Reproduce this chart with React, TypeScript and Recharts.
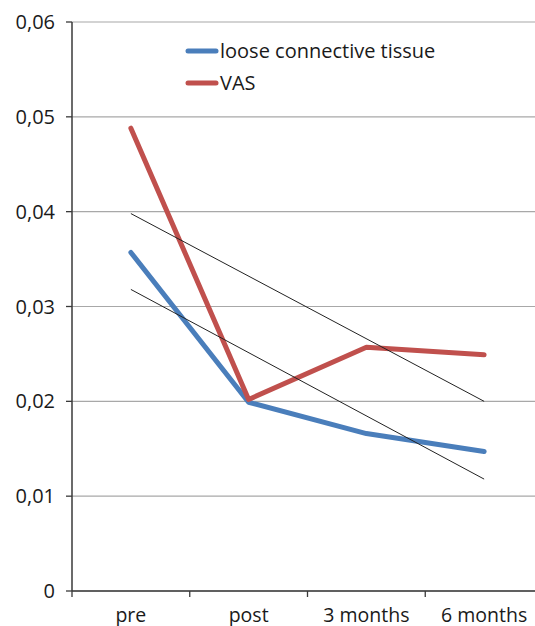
import React from 'react';
import { LineChart, Line, XAxis, YAxis, CartesianGrid, Legend } from 'recharts';

const categories = ['pre', 'post', '3 months', '6 months'];
const looseConnectiveTissue = [0.0357, 0.0199, 0.0166, 0.0147];
const vas = [0.0488, 0.0202, 0.0257, 0.0249];
const trendVas = [0.0398, null, null, 0.0200];
const trendLoose = [0.0318, null, null, 0.0118];
const yTicks = [0, 0.01, 0.02, 0.03, 0.04, 0.05, 0.06];

const data = categories.map((c, i) => ({
  name: c,
  loose: looseConnectiveTissue[i],
  vas: vas[i],
  trendVas: trendVas[i],
  trendLoose: trendLoose[i],
}));

const FONT = '"Open Sans", sans-serif';
const BLUE = '#4A7EBB';
const RED = '#C0504D';
const AXIS = '#3a3a3a';
const TEXT = '#1a1a1a';

const fmt = (v: number) => (v === 0 ? '0' : v.toFixed(2).replace('.', ','));

const XTick = (props: any) => {
  const { x, y, payload } = props;
  const half = payload && payload.offset > 0 ? payload.offset : 58.8;
  return (
    <g>
      <line x1={x - half} x2={x - half} y1={y} y2={y + 6} stroke={AXIS} strokeWidth={1.3} />
      <text x={x} y={y + 31} textAnchor="middle" fontFamily={FONT} fontSize={19.5} fill={TEXT}>
        {payload.value}
      </text>
    </g>
  );
};

const legendItems = [
  { label: 'loose connective tissue', color: BLUE },
  { label: 'VAS', color: RED },
];

const LegendContent = () => (
  <div style={{ fontFamily: FONT, fontSize: 20, color: TEXT }}>
    {legendItems.map((it) => (
      <div key={it.label} style={{ display: 'flex', alignItems: 'center', height: 32, whiteSpace: 'nowrap' }}>
        <svg width={34} height={10} style={{ display: 'block' }}>
          <line x1={3} x2={31} y1={5} y2={5} stroke={it.color} strokeWidth={5} strokeLinecap="round" />
        </svg>
        <span style={{ marginLeft: 1, lineHeight: '32px' }}>{it.label}</span>
      </div>
    ))}
  </div>
);

export default function App() {
  return (
    <div style={{ position: 'absolute', left: 0, top: 0, width: 535, height: 626, overflow: 'hidden' }}>
      <LineChart width={545} height={626} data={data} margin={{ top: 22, right: 2, bottom: 0, left: 0 }}>
        <CartesianGrid horizontal vertical={false} stroke="#a8a8a8" strokeWidth={1.2} />
        <XAxis
          dataKey="name"
          scale="band"
          height={35}
          tickSize={0}
          tickMargin={0}
          tickLine={false}
          tick={<XTick />}
          axisLine={{ stroke: AXIS, strokeWidth: 1.5 }}
          interval={0}
        />
        <YAxis
          width={72}
          domain={[0, 0.06]}
          ticks={yTicks}
          tickFormatter={fmt}
          tickSize={6}
          tickMargin={11}
          tick={{ fontFamily: FONT, fontSize: 20, fill: TEXT }}
          tickLine={{ stroke: AXIS, strokeWidth: 1.3 }}
          axisLine={{ stroke: AXIS, strokeWidth: 1.5 }}
          interval={0}
        />
        <Legend
          verticalAlign="middle"
          layout="horizontal"
          wrapperStyle={{ left: 185, top: 35, width: 300 }}
          content={<LegendContent />}
        />
        <Line dataKey="loose" stroke={BLUE} strokeWidth={5} dot={false} type="linear" isAnimationActive={false} strokeLinejoin="round" strokeLinecap="round" />
        <Line dataKey="vas" stroke={RED} strokeWidth={5} dot={false} type="linear" isAnimationActive={false} strokeLinejoin="round" strokeLinecap="round" />
        <Line dataKey="trendVas" stroke="#222" strokeWidth={1} dot={false} connectNulls isAnimationActive={false} legendType="none" />
        <Line dataKey="trendLoose" stroke="#222" strokeWidth={1} dot={false} connectNulls isAnimationActive={false} legendType="none" />
      </LineChart>
    </div>
  );
}
